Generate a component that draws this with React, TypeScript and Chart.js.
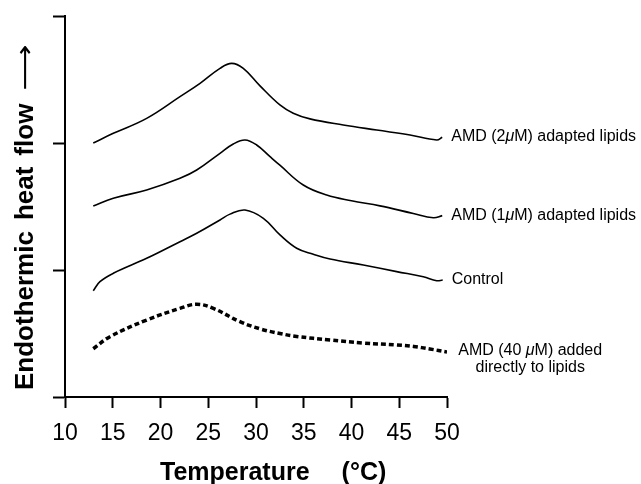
import { useEffect, useRef } from "react";
import { Chart, registerables } from "chart.js";

Chart.register(...registerables);

// ---- data (temperature °C, endothermic heat flow in arbitrary offset units) ----
const temps2uM = [12.96, 15.06, 18.55, 22.04, 24.14, 26.23, 27.45, 28.67, 30.42, 32.5, 33.9, 35.65, 39.14, 42.64, 46.13, 48.92, 49.5];
const flow2uM = [2.0, 2.076, 2.194, 2.365, 2.47, 2.588, 2.627, 2.588, 2.45, 2.3, 2.235, 2.19, 2.142, 2.102, 2.063, 2.024, 2.045];

const temps1uM = [12.96, 15.06, 18.55, 22.04, 23.79, 26.23, 27.62, 28.85, 30.07, 31.47, 32.5, 34.95, 37.4, 40.0, 42.98, 46.47, 48.57, 49.5];
const flow1uM = [1.504, 1.565, 1.63, 1.722, 1.787, 1.919, 1.992, 2.024, 1.984, 1.892, 1.825, 1.669, 1.59, 1.545, 1.505, 1.445, 1.412, 1.428];

const tempsControl = [12.96, 13.66, 15.06, 18.55, 22.04, 23.79, 26.23, 27.28, 28.85, 30.77, 32.51, 34.26, 36.0, 37.75, 41.24, 44.73, 47.52, 48.92, 49.55];
const flowControl = [0.837, 0.908, 0.974, 1.092, 1.223, 1.289, 1.394, 1.44, 1.472, 1.407, 1.276, 1.171, 1.124, 1.087, 1.039, 0.987, 0.947, 0.916, 0.921];

const temps40uM = [12.96, 14.71, 18.55, 22.04, 23.79, 25.53, 28.32, 30.5, 32.5, 34.26, 37.75, 41.24, 44.73, 46.5, 48.2, 50.0];
const flow40uM = [0.38, 0.475, 0.606, 0.698, 0.73, 0.698, 0.593, 0.535, 0.5, 0.477, 0.449, 0.425, 0.41, 0.398, 0.378, 0.355];

const seriesLabels = [
  ["AMD (2μM) adapted lipids"],
  ["AMD (1μM) adapted lipids"],
  ["Control"],
  ["AMD (40 μM) added", "directly to lipids"],
];

const xTickValues = [10, 15, 20, 25, 30, 35, 40, 45, 50];
const yTickValues = [0, 1, 2, 3];
const xTitleParts = ["Temperature", "(°C)"];
const yTitleWords = ["Endothermic", "heat", "flow"];
const yTitleArrow = "⟶";

const FONT = "'Liberation Sans', Arial, Helvetica, sans-serif";

function toPoints(t: number[], v: number[]) {
  return t.map((x, i) => ({ x, y: v[i] }));
}

function drawRich(ctx: CanvasRenderingContext2D, text: string, x: number, y: number, size: number, align: "left" | "center") {
  const parts = text.split(/(μ)/).filter((p) => p.length > 0);
  const fonts = parts.map((p) => (p === "μ" ? `italic ${size}px ${FONT}` : `${size}px ${FONT}`));
  const widths = parts.map((p, i) => {
    ctx.font = fonts[i];
    return ctx.measureText(p).width;
  });
  const total = widths.reduce((a, b) => a + b, 0);
  let cx = align === "center" ? x - total / 2 : x;
  ctx.textAlign = "left";
  ctx.textBaseline = "middle";
  parts.forEach((p, i) => {
    ctx.font = fonts[i];
    ctx.fillText(p, cx, y);
    cx += widths[i];
  });
  return total;
}

const annotatePlugin = {
  id: "annotate",
  afterDraw(chart: any) {
    const ctx: CanvasRenderingContext2D = chart.ctx;
    const ca = chart.chartArea;
    ctx.save();
    ctx.fillStyle = "#000";

    // curve end labels
    chart.data.datasets.forEach((_ds: any, i: number) => {
      const meta = chart.getDatasetMeta(i);
      const last = meta.data[meta.data.length - 1];
      const lines = seriesLabels[i];
      if (lines.length === 1) {
        drawRich(ctx, lines[0], last.x + 9, last.y - 0.5, 16, "left");
      } else {
        ctx.font = `16px ${FONT}`;
        const w0 = ctx.measureText(lines[0]).width;
        const left = last.x + 11;
        const cx = left + w0 / 2;
        lines.forEach((ln, k) => drawRich(ctx, ln, cx, last.y - 1.5 + k * 17, 16, "center"));
      }
    });

    // x axis title
    ctx.font = `bold 25px ${FONT}`;
    ctx.textAlign = "left";
    ctx.textBaseline = "alphabetic";
    const xBase = ca.bottom + 83;
    let tx = ca.left + 95;
    ctx.fillText(xTitleParts[0], tx, xBase);
    tx += ctx.measureText(xTitleParts[0]).width + 32;
    ctx.fillText(xTitleParts[1], tx, xBase);

    // y axis title (rotated)
    ctx.translate(33, ca.bottom - 7);
    ctx.rotate(-Math.PI / 2);
    let ty = 0;
    yTitleWords.forEach((w) => {
      ctx.font = `bold 26px ${FONT}`;
      ctx.fillText(w, ty, 0);
      ty += ctx.measureText(w).width + 11;
    });
    ty += 2;
    ctx.font = `25px 'DejaVu Sans', sans-serif`;
    const aw = ctx.measureText(yTitleArrow).width;
    ctx.save();
    ctx.translate(ty, 0);
    ctx.scale(46 / aw, 1);
    ctx.fillText(yTitleArrow, 0, 0);
    ctx.restore();

    ctx.restore();
  },
};

export default function App() {
  const ref = useRef<HTMLCanvasElement>(null);

  useEffect(() => {
    if (!ref.current) return;
    const solid = { borderColor: "#000", borderWidth: 1.6, pointRadius: 0, tension: 0.4, fill: false };
    const chart = new Chart(ref.current, {
      type: "line",
      data: {
        datasets: [
          { ...solid, label: seriesLabels[0].join(" "), data: toPoints(temps2uM, flow2uM) },
          { ...solid, label: seriesLabels[1].join(" "), data: toPoints(temps1uM, flow1uM) },
          { ...solid, label: seriesLabels[2].join(" "), data: toPoints(tempsControl, flowControl) },
          {
            ...solid,
            label: seriesLabels[3].join(" "),
            data: toPoints(temps40uM, flow40uM),
            borderWidth: 3.5,
            borderDash: [5, 3],
          },
        ],
      },
      options: {
        animation: false,
        responsive: false,
        maintainAspectRatio: false,
        layout: { padding: { left: 0, top: 16, right: 194, bottom: 0 } },
        plugins: { legend: { display: false }, tooltip: { enabled: false } },
        scales: {
          x: {
            type: "linear",
            min: 10,
            max: 50,
            afterBuildTicks: (s: any) => {
              s.ticks = xTickValues.map((v) => ({ value: v }));
            },
            afterFit: (s: any) => {
              s.height = 87;
            },
            border: { display: true, color: "#000", width: 2 },
            grid: { drawOnChartArea: false, drawTicks: true, tickLength: 11, tickWidth: 2, tickColor: "#000" },
            ticks: { color: "#000", font: { family: FONT, size: 23 }, padding: 12, maxRotation: 0, autoSkip: false },
          },
          y: {
            type: "linear",
            min: 0,
            max: 3,
            afterBuildTicks: (s: any) => {
              s.ticks = yTickValues.map((v) => ({ value: v }));
            },
            afterFit: (s: any) => {
              s.width = 65;
            },
            border: { display: true, color: "#000", width: 2 },
            grid: { drawOnChartArea: false, drawTicks: true, tickLength: 12, tickWidth: 2, tickColor: "#000" },
            ticks: { display: false },
          },
        },
      },
      plugins: [annotatePlugin],
    });
    return () => chart.destroy();
  }, []);

  return (
    <div style={{ position: "fixed", left: 0, top: 0, width: 641, height: 484, background: "#fff" }}>
      <canvas ref={ref} width={641} height={484} style={{ display: "block" }} />
    </div>
  );
}
